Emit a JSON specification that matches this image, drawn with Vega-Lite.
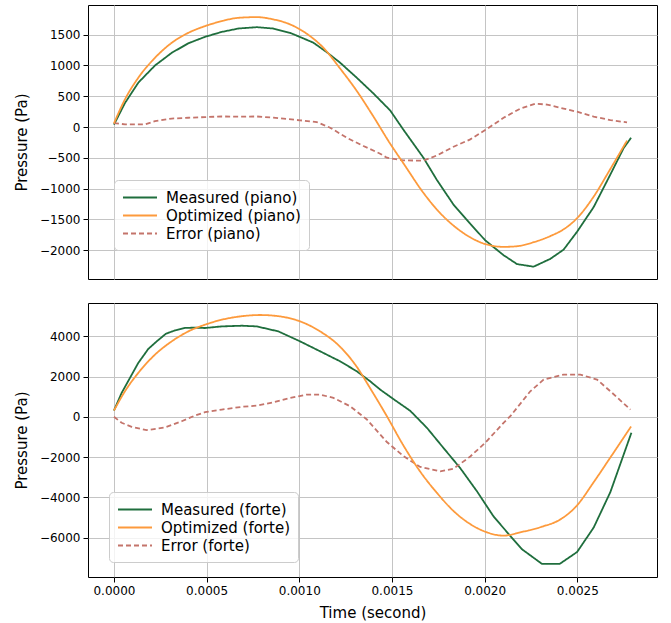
{
  "$schema": "https://vega.github.io/schema/vega-lite/v6.json",
  "padding": {"left": 13, "top": 4, "right": 14, "bottom": 2},
  "config": {
    "font": "DejaVu Sans",
    "view": {"stroke": "#000000", "strokeWidth": 1},
    "axis": {"grid": true, "gridColor": "#c4c4c4", "gridWidth": 1, "domain": false, "tickColor": "#000000", "tickSize": 5, "labelFontSize": 12, "labelColor": "#000000", "titleFontSize": 15, "titleFontWeight": "normal", "titleColor": "#000000", "labelPadding": 3},
    "legend": {"title": null, "orient": "none", "symbolType": "M-1,0H3", "symbolSize": 289, "symbolStrokeWidth": 1.8, "labelFontSize": 15, "labelColor": "#000000", "labelOffset": 25, "rowPadding": 0, "padding": 8, "fillColor": "rgba(255,255,255,0.8)", "strokeColor": "#cccccc", "cornerRadius": 4}
  },
  "spacing": 22,
  "data": {"values": [
    {"panel":"piano","series":"Measured (piano)","t":0,"p":40},
    {"panel":"piano","series":"Measured (piano)","t":0.0000594,"p":390},
    {"panel":"piano","series":"Measured (piano)","t":0.0001312,"p":720},
    {"panel":"piano","series":"Measured (piano)","t":0.0002214,"p":1000},
    {"panel":"piano","series":"Measured (piano)","t":0.0003116,"p":1205},
    {"panel":"piano","series":"Measured (piano)","t":0.0004012,"p":1360},
    {"panel":"piano","series":"Measured (piano)","t":0.0004914,"p":1465},
    {"panel":"piano","series":"Measured (piano)","t":0.0005816,"p":1545},
    {"panel":"piano","series":"Measured (piano)","t":0.0006712,"p":1600},
    {"panel":"piano","series":"Measured (piano)","t":0.0007706,"p":1622},
    {"panel":"piano","series":"Measured (piano)","t":0.0008602,"p":1600},
    {"panel":"piano","series":"Measured (piano)","t":0.0009504,"p":1530},
    {"panel":"piano","series":"Measured (piano)","t":0.0010044,"p":1462},
    {"panel":"piano","series":"Measured (piano)","t":0.0010762,"p":1370},
    {"panel":"piano","series":"Measured (piano)","t":0.0011486,"p":1215},
    {"panel":"piano","series":"Measured (piano)","t":0.0012204,"p":1045},
    {"panel":"piano","series":"Measured (piano)","t":0.0013106,"p":800},
    {"panel":"piano","series":"Measured (piano)","t":0.0014002,"p":545},
    {"panel":"piano","series":"Measured (piano)","t":0.0014904,"p":270},
    {"panel":"piano","series":"Measured (piano)","t":0.0015622,"p":-45},
    {"panel":"piano","series":"Measured (piano)","t":0.0016702,"p":-500},
    {"panel":"piano","series":"Measured (piano)","t":0.0017426,"p":-860},
    {"panel":"piano","series":"Measured (piano)","t":0.0018322,"p":-1260},
    {"panel":"piano","series":"Measured (piano)","t":0.0019224,"p":-1570},
    {"panel":"piano","series":"Measured (piano)","t":0.0020034,"p":-1840},
    {"panel":"piano","series":"Measured (piano)","t":0.0021022,"p":-2080},
    {"panel":"piano","series":"Measured (piano)","t":0.0021746,"p":-2225},
    {"panel":"piano","series":"Measured (piano)","t":0.0022642,"p":-2267},
    {"panel":"piano","series":"Measured (piano)","t":0.0023544,"p":-2140},
    {"panel":"piano","series":"Measured (piano)","t":0.0024262,"p":-1990},
    {"panel":"piano","series":"Measured (piano)","t":0.0024986,"p":-1700},
    {"panel":"piano","series":"Measured (piano)","t":0.0025882,"p":-1300},
    {"panel":"piano","series":"Measured (piano)","t":0.0026784,"p":-770},
    {"panel":"piano","series":"Measured (piano)","t":0.0027502,"p":-340},
    {"panel":"piano","series":"Measured (piano)","t":0.0027902,"p":-174},

    {"panel":"piano","series":"Optimized (piano)","t":0,"p":60},
    {"panel":"piano","series":"Optimized (piano)","t":0.0000594,"p":450},
    {"panel":"piano","series":"Optimized (piano)","t":0.0001312,"p":800},
    {"panel":"piano","series":"Optimized (piano)","t":0.0002214,"p":1125},
    {"panel":"piano","series":"Optimized (piano)","t":0.0003116,"p":1368},
    {"panel":"piano","series":"Optimized (piano)","t":0.0004012,"p":1530},
    {"panel":"piano","series":"Optimized (piano)","t":0.0004914,"p":1639},
    {"panel":"piano","series":"Optimized (piano)","t":0.0005816,"p":1720},
    {"panel":"piano","series":"Optimized (piano)","t":0.0006712,"p":1774},
    {"panel":"piano","series":"Optimized (piano)","t":0.0007706,"p":1785},
    {"panel":"piano","series":"Optimized (piano)","t":0.0008602,"p":1748},
    {"panel":"piano","series":"Optimized (piano)","t":0.0009504,"p":1667},
    {"panel":"piano","series":"Optimized (piano)","t":0.0010406,"p":1515},
    {"panel":"piano","series":"Optimized (piano)","t":0.0011302,"p":1287},
    {"panel":"piano","series":"Optimized (piano)","t":0.0012204,"p":950},
    {"panel":"piano","series":"Optimized (piano)","t":0.0013106,"p":585},
    {"panel":"piano","series":"Optimized (piano)","t":0.0014002,"p":170},
    {"panel":"piano","series":"Optimized (piano)","t":0.0014904,"p":-270},
    {"panel":"piano","series":"Optimized (piano)","t":0.0015622,"p":-590},
    {"panel":"piano","series":"Optimized (piano)","t":0.0016702,"p":-1070},
    {"panel":"piano","series":"Optimized (piano)","t":0.0017426,"p":-1340},
    {"panel":"piano","series":"Optimized (piano)","t":0.0018322,"p":-1600},
    {"panel":"piano","series":"Optimized (piano)","t":0.0019224,"p":-1790},
    {"panel":"piano","series":"Optimized (piano)","t":0.0020034,"p":-1900},
    {"panel":"piano","series":"Optimized (piano)","t":0.0021022,"p":-1945},
    {"panel":"piano","series":"Optimized (piano)","t":0.0021746,"p":-1935},
    {"panel":"piano","series":"Optimized (piano)","t":0.0022642,"p":-1870},
    {"panel":"piano","series":"Optimized (piano)","t":0.0023544,"p":-1770},
    {"panel":"piano","series":"Optimized (piano)","t":0.0024262,"p":-1660},
    {"panel":"piano","series":"Optimized (piano)","t":0.0024986,"p":-1480},
    {"panel":"piano","series":"Optimized (piano)","t":0.0025882,"p":-1130},
    {"panel":"piano","series":"Optimized (piano)","t":0.0026784,"p":-680},
    {"panel":"piano","series":"Optimized (piano)","t":0.0027682,"p":-220},

    {"panel":"piano","series":"Error (piano)","t":0,"p":65},
    {"panel":"piano","series":"Error (piano)","t":0.0000594,"p":44},
    {"panel":"piano","series":"Error (piano)","t":0.0001674,"p":44},
    {"panel":"piano","series":"Error (piano)","t":0.0002214,"p":95},
    {"panel":"piano","series":"Error (piano)","t":0.0003116,"p":138},
    {"panel":"piano","series":"Error (piano)","t":0.0004012,"p":151},
    {"panel":"piano","series":"Error (piano)","t":0.0004914,"p":162},
    {"panel":"piano","series":"Error (piano)","t":0.0005816,"p":172},
    {"panel":"piano","series":"Error (piano)","t":0.0006712,"p":168},
    {"panel":"piano","series":"Error (piano)","t":0.0007706,"p":172},
    {"panel":"piano","series":"Error (piano)","t":0.0008602,"p":152},
    {"panel":"piano","series":"Error (piano)","t":0.0010044,"p":110},
    {"panel":"piano","series":"Error (piano)","t":0.0010946,"p":80},
    {"panel":"piano","series":"Error (piano)","t":0.0011664,"p":-10},
    {"panel":"piano","series":"Error (piano)","t":0.0012566,"p":-174},
    {"panel":"piano","series":"Error (piano)","t":0.0013462,"p":-308},
    {"panel":"piano","series":"Error (piano)","t":0.0014364,"p":-433},
    {"panel":"piano","series":"Error (piano)","t":0.0014726,"p":-498},
    {"panel":"piano","series":"Error (piano)","t":0.0015622,"p":-541},
    {"panel":"piano","series":"Error (piano)","t":0.0016702,"p":-545},
    {"panel":"piano","series":"Error (piano)","t":0.0017426,"p":-460},
    {"panel":"piano","series":"Error (piano)","t":0.0018322,"p":-320},
    {"panel":"piano","series":"Error (piano)","t":0.0019224,"p":-200},
    {"panel":"piano","series":"Error (piano)","t":0.0020126,"p":-30},
    {"panel":"piano","series":"Error (piano)","t":0.0021022,"p":151},
    {"panel":"piano","series":"Error (piano)","t":0.0021924,"p":300},
    {"panel":"piano","series":"Error (piano)","t":0.0022734,"p":380},
    {"panel":"piano","series":"Error (piano)","t":0.0023366,"p":365},
    {"panel":"piano","series":"Error (piano)","t":0.0024262,"p":300},
    {"panel":"piano","series":"Error (piano)","t":0.0024986,"p":249},
    {"panel":"piano","series":"Error (piano)","t":0.0025882,"p":170},
    {"panel":"piano","series":"Error (piano)","t":0.0026784,"p":114},
    {"panel":"piano","series":"Error (piano)","t":0.0027682,"p":75},

    {"panel":"forte","series":"Measured (forte)","t":0,"p":312},
    {"panel":"forte","series":"Measured (forte)","t":0.0000416,"p":1190},
    {"panel":"forte","series":"Measured (forte)","t":0.0000864,"p":1934},
    {"panel":"forte","series":"Measured (forte)","t":0.0001312,"p":2678},
    {"panel":"forte","series":"Measured (forte)","t":0.0001852,"p":3373},
    {"panel":"forte","series":"Measured (forte)","t":0.0002306,"p":3750},
    {"panel":"forte","series":"Measured (forte)","t":0.0002808,"p":4132},
    {"panel":"forte","series":"Measured (forte)","t":0.0003294,"p":4295},
    {"panel":"forte","series":"Measured (forte)","t":0.0003834,"p":4420},
    {"panel":"forte","series":"Measured (forte)","t":0.0004374,"p":4430},
    {"panel":"forte","series":"Measured (forte)","t":0.0004914,"p":4414},
    {"panel":"forte","series":"Measured (forte)","t":0.0005816,"p":4494},
    {"panel":"forte","series":"Measured (forte)","t":0.0006896,"p":4528},
    {"panel":"forte","series":"Measured (forte)","t":0.0007706,"p":4494},
    {"panel":"forte","series":"Measured (forte)","t":0.0008872,"p":4246},
    {"panel":"forte","series":"Measured (forte)","t":0.0010044,"p":3750},
    {"panel":"forte","series":"Measured (forte)","t":0.0011302,"p":3174},
    {"panel":"forte","series":"Measured (forte)","t":0.0012204,"p":2758},
    {"panel":"forte","series":"Measured (forte)","t":0.0013106,"p":2262},
    {"panel":"forte","series":"Measured (forte)","t":0.0013824,"p":1766},
    {"panel":"forte","series":"Measured (forte)","t":0.0014364,"p":1354},
    {"panel":"forte","series":"Measured (forte)","t":0.0015082,"p":880},
    {"panel":"forte","series":"Measured (forte)","t":0.0015984,"p":300},
    {"panel":"forte","series":"Measured (forte)","t":0.0016886,"p":-546},
    {"panel":"forte","series":"Measured (forte)","t":0.0017782,"p":-1550},
    {"panel":"forte","series":"Measured (forte)","t":0.0018684,"p":-2550},
    {"panel":"forte","series":"Measured (forte)","t":0.0019586,"p":-3700},
    {"panel":"forte","series":"Measured (forte)","t":0.0020482,"p":-4950},
    {"panel":"forte","series":"Measured (forte)","t":0.0021384,"p":-5920},
    {"panel":"forte","series":"Measured (forte)","t":0.0022016,"p":-6582},
    {"panel":"forte","series":"Measured (forte)","t":0.0023096,"p":-7310},
    {"panel":"forte","series":"Measured (forte)","t":0.0024046,"p":-7310},
    {"panel":"forte","series":"Measured (forte)","t":0.0024986,"p":-6720},
    {"panel":"forte","series":"Measured (forte)","t":0.0025882,"p":-5506},
    {"panel":"forte","series":"Measured (forte)","t":0.0026784,"p":-3740},
    {"panel":"forte","series":"Measured (forte)","t":0.0027918,"p":-794},

    {"panel":"forte","series":"Optimized (forte)","t":0,"p":312},
    {"panel":"forte","series":"Optimized (forte)","t":0.0000594,"p":1270},
    {"panel":"forte","series":"Optimized (forte)","t":0.0001312,"p":2182},
    {"panel":"forte","series":"Optimized (forte)","t":0.0002214,"p":3090},
    {"panel":"forte","series":"Optimized (forte)","t":0.0003116,"p":3750},
    {"panel":"forte","series":"Optimized (forte)","t":0.0004012,"p":4246},
    {"panel":"forte","series":"Optimized (forte)","t":0.0004914,"p":4578},
    {"panel":"forte","series":"Optimized (forte)","t":0.0005816,"p":4826},
    {"panel":"forte","series":"Optimized (forte)","t":0.0006896,"p":5000},
    {"panel":"forte","series":"Optimized (forte)","t":0.0007884,"p":5060},
    {"panel":"forte","series":"Optimized (forte)","t":0.0008964,"p":4990},
    {"panel":"forte","series":"Optimized (forte)","t":0.0010044,"p":4742},
    {"panel":"forte","series":"Optimized (forte)","t":0.0011124,"p":4246},
    {"panel":"forte","series":"Optimized (forte)","t":0.0012204,"p":3480},
    {"panel":"forte","series":"Optimized (forte)","t":0.0013106,"p":2480},
    {"panel":"forte","series":"Optimized (forte)","t":0.0013824,"p":1420},
    {"panel":"forte","series":"Optimized (forte)","t":0.0014726,"p":30},
    {"panel":"forte","series":"Optimized (forte)","t":0.0015622,"p":-1430},
    {"panel":"forte","series":"Optimized (forte)","t":0.0016522,"p":-2720},
    {"panel":"forte","series":"Optimized (forte)","t":0.0017426,"p":-3780},
    {"panel":"forte","series":"Optimized (forte)","t":0.0018322,"p":-4680},
    {"panel":"forte","series":"Optimized (forte)","t":0.0019224,"p":-5330},
    {"panel":"forte","series":"Optimized (forte)","t":0.0020126,"p":-5740},
    {"panel":"forte","series":"Optimized (forte)","t":0.0021022,"p":-5905},
    {"panel":"forte","series":"Optimized (forte)","t":0.0021924,"p":-5740},
    {"panel":"forte","series":"Optimized (forte)","t":0.0023096,"p":-5460},
    {"panel":"forte","series":"Optimized (forte)","t":0.0024046,"p":-5120},
    {"panel":"forte","series":"Optimized (forte)","t":0.0024986,"p":-4400},
    {"panel":"forte","series":"Optimized (forte)","t":0.0025882,"p":-3250},
    {"panel":"forte","series":"Optimized (forte)","t":0.0026784,"p":-2020},
    {"panel":"forte","series":"Optimized (forte)","t":0.0027902,"p":-480},

    {"panel":"forte","series":"Error (forte)","t":0,"p":0},
    {"panel":"forte","series":"Error (forte)","t":0.0000416,"p":-298},
    {"panel":"forte","series":"Error (forte)","t":0.0000956,"p":-496},
    {"panel":"forte","series":"Error (forte)","t":0.0001766,"p":-660},
    {"panel":"forte","series":"Error (forte)","t":0.0002754,"p":-530},
    {"panel":"forte","series":"Error (forte)","t":0.0003656,"p":-218},
    {"panel":"forte","series":"Error (forte)","t":0.0004374,"p":64},
    {"panel":"forte","series":"Error (forte)","t":0.0004914,"p":230},
    {"panel":"forte","series":"Error (forte)","t":0.0005816,"p":362},
    {"panel":"forte","series":"Error (forte)","t":0.0006896,"p":496},
    {"panel":"forte","series":"Error (forte)","t":0.0007706,"p":560},
    {"panel":"forte","series":"Error (forte)","t":0.0008602,"p":724},
    {"panel":"forte","series":"Error (forte)","t":0.0009504,"p":942},
    {"panel":"forte","series":"Error (forte)","t":0.0010406,"p":1106},
    {"panel":"forte","series":"Error (forte)","t":0.0011124,"p":1106},
    {"panel":"forte","series":"Error (forte)","t":0.0011842,"p":942},
    {"panel":"forte","series":"Error (forte)","t":0.0012744,"p":526},
    {"panel":"forte","series":"Error (forte)","t":0.0013646,"p":-134},
    {"panel":"forte","series":"Error (forte)","t":0.0014364,"p":-878},
    {"panel":"forte","series":"Error (forte)","t":0.0014726,"p":-1250},
    {"panel":"forte","series":"Error (forte)","t":0.0015622,"p":-1954},
    {"panel":"forte","series":"Error (forte)","t":0.0016522,"p":-2490},
    {"panel":"forte","series":"Error (forte)","t":0.0017604,"p":-2710},
    {"panel":"forte","series":"Error (forte)","t":0.0018322,"p":-2579},
    {"panel":"forte","series":"Error (forte)","t":0.0019224,"p":-1970},
    {"panel":"forte","series":"Error (forte)","t":0.0020034,"p":-1290},
    {"panel":"forte","series":"Error (forte)","t":0.0021022,"p":-298},
    {"panel":"forte","series":"Error (forte)","t":0.0021384,"p":30},
    {"panel":"forte","series":"Error (forte)","t":0.0022464,"p":1270},
    {"panel":"forte","series":"Error (forte)","t":0.0023182,"p":1850},
    {"panel":"forte","series":"Error (forte)","t":0.0024262,"p":2098},
    {"panel":"forte","series":"Error (forte)","t":0.0025164,"p":2098},
    {"panel":"forte","series":"Error (forte)","t":0.0026066,"p":1850},
    {"panel":"forte","series":"Error (forte)","t":0.0026784,"p":1270},
    {"panel":"forte","series":"Error (forte)","t":0.0027864,"p":362}
  ]},
  "vconcat": [
    {
      "width": 569, "height": 274,
      "transform": [{"filter": "datum.panel === 'piano'"}],
      "encoding": {
        "x": {"field": "t", "type": "quantitative", "scale": {"domain": [-0.00014, 0.00293], "nice": false, "zero": false}, "axis": {"values": [0, 0.0005, 0.001, 0.0015, 0.002, 0.0025], "labels": false, "ticks": false, "title": null}},
        "y": {"field": "p", "type": "quantitative", "scale": {"domain": [-2467, 1982], "nice": false, "zero": false}, "axis": {"values": [-2000, -1500, -1000, -500, 0, 500, 1000, 1500], "format": "d", "title": "Pressure (Pa)", "titlePadding": 10}},
        "color": {"field": "series", "type": "nominal", "scale": {"domain": ["Measured (piano)", "Optimized (piano)", "Error (piano)"], "range": ["#1f6e3d", "#fd9a3c", "#c4746b"]}, "legend": {"legendX": 26, "legendY": 175}},
        "strokeDash": {"field": "series", "type": "nominal", "scale": {"domain": ["Measured (piano)", "Optimized (piano)", "Error (piano)"], "range": [[1, 0], [1, 0], [5, 3]]}, "legend": {"legendX": 26, "legendY": 175}}
      },
      "layer": [
        {"transform": [{"filter": "datum.series !== 'Optimized (piano)'"}], "mark": {"type": "line", "strokeWidth": 1.8}},
        {"transform": [{"filter": "datum.series === 'Optimized (piano)'"}], "mark": {"type": "line", "strokeWidth": 1.8, "interpolate": "monotone"}}
      ]
    },
    {
      "width": 569, "height": 274,
      "transform": [{"filter": "datum.panel === 'forte'"}],
      "encoding": {
        "x": {"field": "t", "type": "quantitative", "scale": {"domain": [-0.00014, 0.00293], "nice": false, "zero": false}, "axis": {"values": [0, 0.0005, 0.001, 0.0015, 0.002, 0.0025], "format": ".4f", "title": "Time (second)", "titlePadding": 9}},
        "y": {"field": "p", "type": "quantitative", "scale": {"domain": [-7960, 5657], "nice": false, "zero": false}, "axis": {"values": [-6000, -4000, -2000, 0, 2000, 4000], "format": "d", "title": "Pressure (Pa)", "titlePadding": 10}},
        "color": {"field": "series", "type": "nominal", "scale": {"domain": ["Measured (forte)", "Optimized (forte)", "Error (forte)"], "range": ["#1f6e3d", "#fd9a3c", "#c4746b"]}, "legend": {"legendX": 21, "legendY": 189}},
        "strokeDash": {"field": "series", "type": "nominal", "scale": {"domain": ["Measured (forte)", "Optimized (forte)", "Error (forte)"], "range": [[1, 0], [1, 0], [5, 3]]}, "legend": {"legendX": 21, "legendY": 189}}
      },
      "layer": [
        {"transform": [{"filter": "datum.series !== 'Optimized (forte)'"}], "mark": {"type": "line", "strokeWidth": 1.8}},
        {"transform": [{"filter": "datum.series === 'Optimized (forte)'"}], "mark": {"type": "line", "strokeWidth": 1.8, "interpolate": "monotone"}}
      ]
    }
  ],
  "resolve": {"scale": {"color": "independent", "strokeDash": "independent", "y": "independent"}, "legend": {"color": "independent", "strokeDash": "independent"}}
}
